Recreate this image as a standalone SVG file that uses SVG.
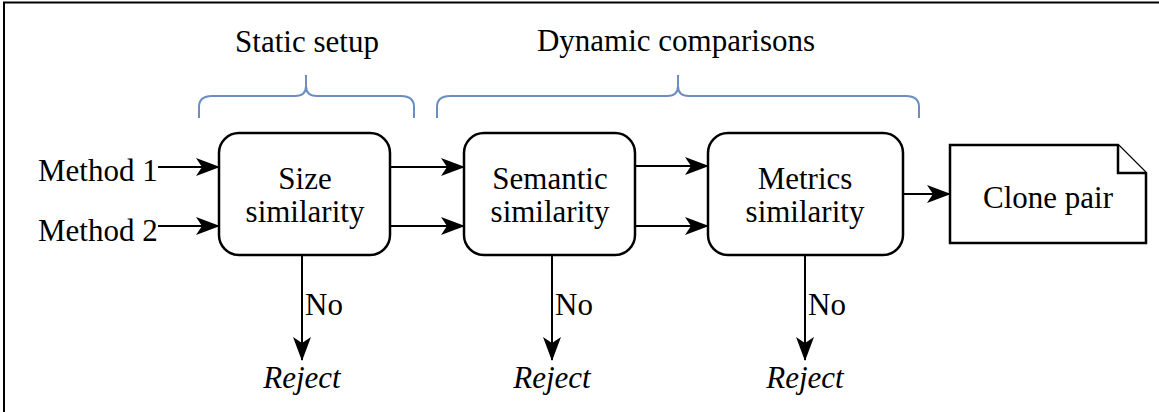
<svg xmlns="http://www.w3.org/2000/svg" width="1159" height="412" viewBox="0 0 1159 412" font-family="'Liberation Serif', 'Times New Roman', serif" font-size="31">
<style>
text{font-family:'Liberation Serif','Times New Roman',serif;font-size:31px;fill:#000}
.c{text-anchor:middle}
.i{font-style:italic}
.box{fill:#fff;stroke:#000;stroke-width:2.5}
.edge{fill:none;stroke:#000;stroke-width:2}
.brace{fill:none;stroke:#6c8ebf;stroke-width:2}
</style>
<defs>
<marker id="ah" viewBox="0 0 24 18" refX="23" refY="9" markerWidth="24" markerHeight="18" markerUnits="userSpaceOnUse" orient="auto">
<path d="M0,0 L24,9 L0,18 L6,9 Z" fill="#000"/>
</marker>
</defs>
<rect x="0" y="0" width="1159" height="412" fill="#fff"/>
<path d="M4,412 V2.5 H1159" fill="none" stroke="#000" stroke-width="2"/>

<g id="labels">
<text class="c" x="307" y="52" font-family="'Liberation Serif', serif">Static setup</text>
<text class="c" x="676" y="51" font-family="'Liberation Serif', serif">Dynamic comparisons</text>
<path class="brace" d="M199,118 V107 Q199,96 212,96 H295 Q306,96 306,86 V75 M306,86 Q306,96 317,96 H401 Q414,96 414,107 V118"/>
<path class="brace" d="M437,118 V107 Q437,96 450,96 H667 Q678,96 678,86 V75 M678,86 Q678,96 689,96 H906 Q919,96 919,107 V118"/>
</g>

<g id="method1"><text x="38" y="181" font-family="'Liberation Serif', serif">Method 1</text></g>
<g id="method2"><text x="38" y="241" font-family="'Liberation Serif', serif">Method 2</text></g>

<g id="size">
<rect class="box" x="219" y="133" width="171" height="122" rx="20"/>
<text class="c" x="305" y="189" font-family="'Liberation Serif', serif">Size</text>
<text class="c" x="305" y="222" font-family="'Liberation Serif', serif">similarity</text>
</g>
<g id="semantic">
<rect class="box" x="464" y="133" width="171" height="122" rx="20"/>
<text class="c" x="550" y="189" font-family="'Liberation Serif', serif">Semantic</text>
<text class="c" x="550" y="222" font-family="'Liberation Serif', serif">similarity</text>
</g>
<g id="metrics">
<rect class="box" x="708" y="133" width="195" height="122" rx="20"/>
<text class="c" x="805" y="189" font-family="'Liberation Serif', serif">Metrics</text>
<text class="c" x="805" y="222" font-family="'Liberation Serif', serif">similarity</text>
</g>
<g id="clone">
<path class="box" d="M950,145 H1118 L1146,173 V243 H950 Z"/>
<path class="box" d="M1118,145 V173 H1146" fill="none"/>
<text class="c" x="1048" y="208" font-family="'Liberation Serif', serif">Clone pair</text>
</g>

<g id="reject1"><text class="c i" x="302" y="388" font-family="'Liberation Serif', serif">Reject</text></g>
<g id="reject2"><text class="c i" x="552" y="388" font-family="'Liberation Serif', serif">Reject</text></g>
<g id="reject3"><text class="c i" x="805" y="388" font-family="'Liberation Serif', serif">Reject</text></g>

<g id="connectors">
<path class="edge" d="M158,167 H219" marker-end="url(#ah)"/>
<path class="edge" d="M158,226 H219" marker-end="url(#ah)"/>
<path class="edge" d="M390,167 H464" marker-end="url(#ah)"/>
<path class="edge" d="M390,226 H464" marker-end="url(#ah)"/>
<path class="edge" d="M635,166 H708" marker-end="url(#ah)"/>
<path class="edge" d="M635,226 H708" marker-end="url(#ah)"/>
<path class="edge" d="M903,194 H950" marker-end="url(#ah)"/>
<path class="edge" d="M302,255 V360" marker-end="url(#ah)"/>
<path class="edge" d="M552,255 V360" marker-end="url(#ah)"/>
<path class="edge" d="M805,255 V360" marker-end="url(#ah)"/>
<text x="305" y="315" font-family="'Liberation Serif', serif">No</text>
<text x="555" y="315" font-family="'Liberation Serif', serif">No</text>
<text x="808" y="315" font-family="'Liberation Serif', serif">No</text>
</g>
</svg>
